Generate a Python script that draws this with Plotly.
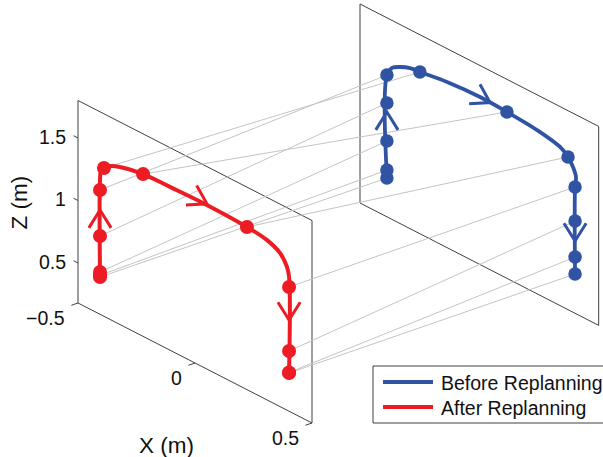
import math
import plotly.graph_objects as go

# ---------------- data (metres) ----------------
# After replanning (red, front plane)
after_path_x = [-0.406, -0.406, -0.402, -0.389, -0.363, -0.321, -0.222, -0.107, 0.034, 0.222, 0.308, 0.363, 0.393, 0.402, 0.402]
after_path_z = [0.478, 1.254, 1.330, 1.366, 1.407, 1.440, 1.478, 1.486, 1.493, 1.481, 1.459, 1.409, 1.326, 1.254, 0.486]
after_wp_x = [-0.406, -0.406, -0.406, -0.406, -0.406, -0.389, -0.222, 0.222, 0.402, 0.402, 0.402, 0.402]
after_wp_z = [0.478, 0.492, 0.518, 0.806, 1.174, 1.366, 1.478, 1.481, 1.174, 0.662, 0.490, 0.486]
after_arrow_x = [-0.406, 0.051, 0.402]
after_arrow_z = [1.014, 1.502, 0.910]

# Before replanning (blue, back plane)
before_path_x = [-0.385, -0.385, -0.363, -0.329, -0.286, -0.244, -0.128, 0.013, 0.128, 0.256, 0.355, 0.389, 0.410, 0.423, 0.419, 0.419]
before_path_z = [0.506, 1.330, 1.408, 1.448, 1.481, 1.490, 1.521, 1.536, 1.527, 1.506, 1.465, 1.418, 1.358, 1.290, 1.206, 0.510]
before_wp_x = [-0.385, -0.385, -0.385, -0.385, -0.385, -0.244, 0.128, 0.389, 0.419, 0.419, 0.419, 0.419]
before_wp_z = [0.506, 0.570, 0.802, 1.106, 1.330, 1.490, 1.527, 1.418, 1.206, 0.934, 0.646, 0.510]
before_arrow_x = [-0.385, 0.056, 0.419]
before_arrow_z = [1.034, 1.533, 0.774]

# planes (x range, z range)
front_plane_x = [-0.5, 0.5]
front_plane_z = [0.18, 1.80]
back_plane_x = [-0.5, 0.52]
back_plane_z = [0.196, 1.788]

x_ticks = [-0.5, 0, 0.5]
x_tick_labels = ["\u22120.5", "0", "0.5"]
z_ticks = [0.5, 1, 1.5]
z_tick_labels = ["0.5", "1", "1.5"]

series_names = ["Before Replanning", "After Replanning"]

# ---------------- style ----------------
RED = "#ED1C24"
BLUE = "#3053A3"
GRAY = "#C4C4C4"
EDGE = "#404040"
TEXT = "#111111"
FONT = "Liberation Sans, Arial, sans-serif"
W, H = 603, 457

# oblique view: pixels per metre along X, Z and per plane step along depth
ORIGIN = (78.0, 263.0)          # screen position of X=-0.5, Z=0.5 on the front plane
VX = (234.0, 120.0)
VZ = (0.0, -125.0)
VD = (282.0, -98.0)


def proj(x, z, d):
    sx = ORIGIN[0] + VX[0] * (x + 0.5) + VZ[0] * (z - 0.5) + VD[0] * d
    sy = ORIGIN[1] + VX[1] * (x + 0.5) + VZ[1] * (z - 0.5) + VD[1] * d
    return sx, sy


def proj_list(xs, zs, d):
    pts = [proj(x, z, d) for x, z in zip(xs, zs)]
    return [p[0] for p in pts], [p[1] for p in pts]


fig = go.Figure()


def add_line(xs, ys, color, width, shape="linear"):
    fig.add_trace(go.Scatter(x=xs, y=ys, mode="lines", hoverinfo="skip", showlegend=False,
                             line=dict(color=color, width=width, shape=shape)))


# plane outlines
for (px, pz, d) in [(back_plane_x, back_plane_z, 1), (front_plane_x, front_plane_z, 0)]:
    cx = [px[0], px[1], px[1], px[0], px[0]]
    cz = [pz[0], pz[0], pz[1], pz[1], pz[0]]
    sx, sy = proj_list(cx, cz, d)
    add_line(sx, sy, EDGE, 1)

# correspondence lines
for i in range(len(after_wp_x)):
    a = proj(after_wp_x[i], after_wp_z[i], 0)
    b = proj(before_wp_x[i], before_wp_z[i], 1)
    add_line([a[0], b[0]], [a[1], b[1]], GRAY, 1)

# ticks
ux = math.hypot(*VX)
ud = math.hypot(*VD)
for zt in z_ticks:
    p = proj(front_plane_x[0], zt, 0)
    q = (p[0] - 5 * VX[0] / ux, p[1] - 5 * VX[1] / ux)
    add_line([p[0], q[0]], [p[1], q[1]], EDGE, 1)
for xt in x_ticks:
    p = proj(xt, front_plane_z[0], 0)
    q = (p[0] - 7 * VD[0] / ud, p[1] - 7 * VD[1] / ud)
    add_line([p[0], q[0]], [p[1], q[1]], EDGE, 1)


def chevrons(path_x, path_z, ax, az, d, color):
    sx, sy = proj_list(path_x, path_z, d)
    for x, z in zip(ax, az):
        tx, ty = proj(x, z, d)
        best, bd = 0, 1e9
        for k in range(len(sx) - 1):
            mx, my = (sx[k] + sx[k + 1]) / 2, (sy[k] + sy[k + 1]) / 2
            dd = math.hypot(mx - tx, my - ty)
            segl = math.hypot(sx[k + 1] - sx[k], sy[k + 1] - sy[k])
            if dd - segl / 2 < bd:
                bd, best = dd - segl / 2, k
        dx, dy = sx[best + 1] - sx[best], sy[best + 1] - sy[best]
        n = math.hypot(dx, dy)
        bx, by = -dx / n, -dy / n
        L, ang = 21.0, math.radians(32)
        arms = []
        for s in (1, -1):
            c, si = math.cos(s * ang), math.sin(s * ang)
            arms.append((tx + L * (bx * c - by * si), ty + L * (bx * si + by * c)))
        add_line([arms[0][0], tx, arms[1][0]], [arms[0][1], ty, arms[1][1]], color, 3)


# before (blue, back)
bx_, by_ = proj_list(before_path_x, before_path_z, 1)
add_line(bx_, by_, BLUE, 3.8, "spline")
chevrons(before_path_x, before_path_z, before_arrow_x, before_arrow_z, 1, BLUE)
mx, my = proj_list(before_wp_x, before_wp_z, 1)
fig.add_trace(go.Scatter(x=mx, y=my, mode="markers", showlegend=False, hoverinfo="skip",
                         marker=dict(size=13.5, color=BLUE, line=dict(width=0))))

# after (red, front)
ax_, ay_ = proj_list(after_path_x, after_path_z, 0)
add_line(ax_, ay_, RED, 4, "spline")
chevrons(after_path_x, after_path_z, after_arrow_x, after_arrow_z, 0, RED)
mx, my = proj_list(after_wp_x, after_wp_z, 0)
fig.add_trace(go.Scatter(x=mx, y=my, mode="markers", showlegend=False, hoverinfo="skip",
                         marker=dict(size=14, color=RED, line=dict(width=0))))

annotations = []
for zt, lab in zip(z_ticks, z_tick_labels):
    p = proj(front_plane_x[0], zt, 0)
    annotations.append(dict(x=p[0] - 10, y=p[1] - 1.5, text=lab, xanchor="right", yanchor="middle"))
for xt, lab in zip(x_ticks, x_tick_labels):
    p = proj(xt, front_plane_z[0], 0)
    annotations.append(dict(x=p[0] - 11, y=p[1] + 15, text=lab, xanchor="right", yanchor="middle"))
for a in annotations:
    a.update(xref="x", yref="y", showarrow=False, font=dict(family=FONT, size=19.5, color=TEXT))

zc = proj(front_plane_x[0], 1.0, 0)
annotations.append(dict(x=zc[0] - 59, y=zc[1] + 2, text="Z (m)", textangle=-90, xref="x", yref="y",
                        showarrow=False, font=dict(family=FONT, size=22.5, color=TEXT)))
xc = proj(0.0, front_plane_z[0], 0)
annotations.append(dict(x=xc[0] - 29, y=xc[1] + 82, text="X (m)", xref="x", yref="y",
                        showarrow=False, font=dict(family=FONT, size=22.5, color=TEXT)))

# legend box
shapes = [dict(type="rect", xref="x", yref="y", x0=373, y0=366, x1=640, y1=423,
               line=dict(color=EDGE, width=1), fillcolor="white", layer="above")]
for i, (name, col) in enumerate(zip(series_names, [BLUE, RED])):
    yy = 382 + 25 * i
    shapes.append(dict(type="line", xref="x", yref="y", x0=383, x1=433, y0=yy, y1=yy,
                       line=dict(color=col, width=4), layer="above"))
    annotations.append(dict(x=439, y=yy + 1, text=name, xanchor="left", yanchor="middle", xref="x", yref="y",
                            showarrow=False, font=dict(family=FONT, size=19.5, color=TEXT)))

fig.update_layout(
    width=W, height=H, margin=dict(l=0, r=0, t=0, b=0),
    paper_bgcolor="white", plot_bgcolor="white",
    xaxis=dict(range=[0, W], visible=False, fixedrange=True),
    yaxis=dict(range=[H, 0], visible=False, fixedrange=True),
    annotations=annotations, shapes=shapes, showlegend=False,
)

fig.write_html("out.html", config={"displayModeBar": False},
               post_script="document.body.style.margin='0px';")
